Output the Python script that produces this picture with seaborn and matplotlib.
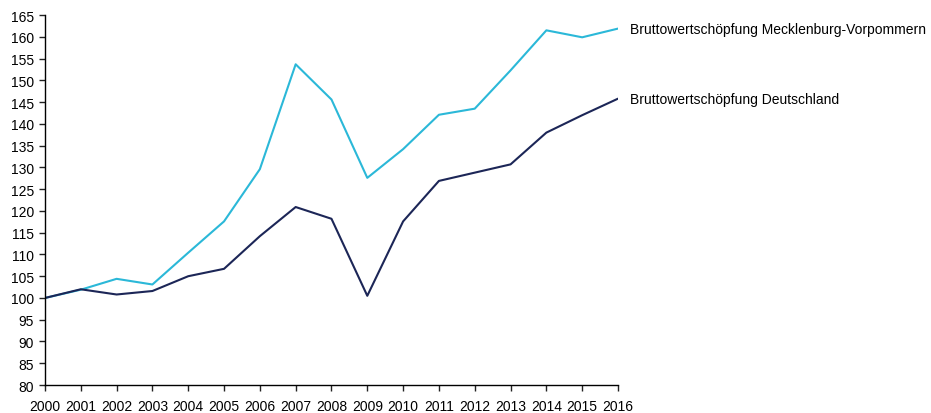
import matplotlib
matplotlib.use("Agg")
import matplotlib.pyplot as plt
import seaborn as sns
import pandas as pd

years = list(range(2000, 2017))
mv_values = [100.0, 101.9, 104.4, 103.1, 110.4, 117.6, 129.6, 153.7, 145.6,
             127.6, 134.2, 142.1, 143.5, 152.3, 161.5, 159.9, 161.9]
de_values = [100.0, 102.0, 100.8, 101.6, 105.0, 106.7, 114.2, 120.9, 118.2,
             100.5, 117.6, 126.9, 128.8, 130.7, 138.0, 142.0, 145.8]
series_names = ["Bruttowertschöpfung Mecklenburg-Vorpommern",
                "Bruttowertschöpfung Deutschland"]
colors = ["#2bb8d8", "#1c2657"]

df = pd.concat([
    pd.DataFrame({"Jahr": years, "Wert": mv_values, "Reihe": series_names[0]}),
    pd.DataFrame({"Jahr": years, "Wert": de_values, "Reihe": series_names[1]}),
])

sns.set_style("ticks")
plt.rcParams["font.family"] = ["Liberation Sans", "DejaVu Sans"]

fig = plt.figure(figsize=(9.31, 4.14), dpi=100)
ax = fig.add_axes([0.0483, 0.0676, 0.6155, 0.8935])

sns.lineplot(data=df, x="Jahr", y="Wert", hue="Reihe",
             palette=dict(zip(series_names, colors)), linewidth=1.5,
             legend=False, ax=ax)

ax.set_xlim(2000, 2016)
ax.set_ylim(80, 165)
ax.set_xticks(years)
ax.set_yticks(range(80, 166, 5))
ax.tick_params(axis="x", length=4, width=1, pad=6, labelsize=10, colors="#222222")
ax.tick_params(axis="y", length=4, width=1, pad=4, labelsize=10, colors="#222222")
for lbl in ax.get_xticklabels() + ax.get_yticklabels():
    lbl.set_color("black")
ax.set_xlabel("")
ax.set_ylabel("")
sns.despine(ax=ax)
for s in ("left", "bottom"):
    ax.spines[s].set_color("black")
    ax.spines[s].set_linewidth(1)

# Series labels at the end of each line
for name, vals in zip(series_names, [mv_values, de_values]):
    ax.annotate(name, xy=(years[-1], vals[-1]), xytext=(9, 0),
                textcoords="offset points", va="center", ha="left",
                fontsize=10, color="black", annotation_clip=False)

fig.savefig("out.png", dpi=100)
